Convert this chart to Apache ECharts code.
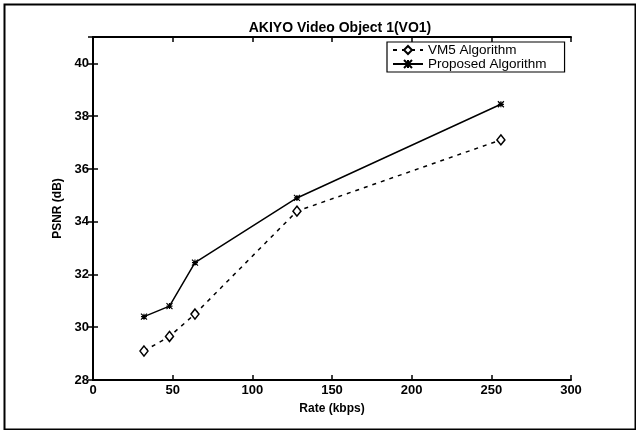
<!DOCTYPE html>
<html>
<head>
<meta charset="utf-8">
<script src="https://cdn.jsdelivr.net/npm/echarts@6/dist/echarts.min.js"></script>
<style>
html,body{margin:0;padding:0;background:#fff;}
#c{width:636px;height:430px;}
</style>
</head>
<body>
<div id="c"></div>
<script>
var rates = [32, 48, 64, 128, 256];
var vm5 = [29.1, 29.65, 30.5, 34.4, 37.1];
var proposed = [30.4, 30.8, 32.45, 34.9, 38.45];
var xTicks = [0, 50, 100, 150, 200, 250, 300];
var yTicks = [28, 30, 32, 34, 36, 38, 40];

var FONT = '"Liberation Sans", Arial, sans-serif';
var chart = echarts.init(document.getElementById('c'), null, {renderer: 'canvas'});

function pairs(xs, ys) { return xs.map(function (x, i) { return [x, ys[i]]; }); }

var tickStyle = {show: true, inside: true, length: 5, lineStyle: {color: '#000', width: 1.5}};
var lineAx = {show: true, lineStyle: {color: '#000', width: 2}};
var plusPath = 'path://M0,5L10,5M5,0L5,10M0,0L10,10M0,10L10,0';

chart.setOption({
  backgroundColor: '#fff',
  animation: false,
  title: {
    text: 'AKIYO Video Object 1(VO1)',
    left: 335, top: 16, textAlign: 'center',
    textStyle: {fontFamily: FONT, fontSize: 14, fontWeight: 'bold', color: '#000'}
  },
  legend: {
    left: 387, top: 42, orient: 'vertical',
    itemGap: 0, itemWidth: 30, itemHeight: 10,
    padding: [1, 18, 1, 5],
    borderColor: '#000', borderWidth: 1.2, backgroundColor: '#fff',
    textStyle: {fontFamily: FONT, fontSize: 13.5, color: '#000', lineHeight: 14},
    data: ['VM5 Algorithm', 'Proposed Algorithm']
  },
  grid: {left: 93, right: 65, top: 37, bottom: 50},
  xAxis: [{
    type: 'value', min: 0, max: 300, interval: 50,
    name: 'Rate (kbps)', nameLocation: 'middle', nameGap: 23,
    nameTextStyle: {fontFamily: FONT, fontSize: 12, fontWeight: 'bold', color: '#000'},
    axisLine: lineAx, axisTick: tickStyle, splitLine: {show: false},
    axisLabel: {fontFamily: FONT, fontSize: 13, fontWeight: 'bold', color: '#000', margin: 4,
      formatter: function (v) { return xTicks.indexOf(v) >= 0 ? String(v) : ''; }}
  }, {
    type: 'value', min: 0, max: 300, interval: 50, position: 'top',
    axisLine: lineAx, axisTick: tickStyle, axisLabel: {show: false}, splitLine: {show: false}
  }],
  yAxis: [{
    type: 'value', min: 28, max: 41, interval: 2,
    name: 'PSNR (dB)', nameLocation: 'middle', nameGap: 27, nameRotate: 90,
    nameTextStyle: {fontFamily: FONT, fontSize: 12, fontWeight: 'bold', color: '#000'},
    axisLine: lineAx, axisTick: tickStyle, splitLine: {show: false},
    axisLabel: {fontFamily: FONT, fontSize: 13, fontWeight: 'bold', color: '#000', margin: 4,
      formatter: function (v) { return yTicks.indexOf(v) >= 0 ? String(v) : ''; }}
  }, {
    type: 'value', min: 28, max: 41, interval: 2, position: 'right',
    axisLine: lineAx, axisTick: tickStyle, axisLabel: {show: false}, splitLine: {show: false}
  }],
  graphic: [{
    type: 'rect', left: 2, top: 2, silent: true,
    shape: {width: 631, height: 425},
    style: {fill: 'none', stroke: '#000', lineWidth: 2}
  }],
  series: [{
    name: 'VM5 Algorithm', type: 'line',
    data: pairs(rates, vm5),
    symbol: 'diamond', symbolSize: [8, 10], showAllSymbol: true,
    lineStyle: {color: '#000', width: 1.5, type: [4, 5]},
    itemStyle: {color: '#fff', borderColor: '#000', borderWidth: 1.5}
  }, {
    name: 'Proposed Algorithm', type: 'line',
    data: pairs(rates, proposed),
    symbol: plusPath, symbolSize: 6, showAllSymbol: true,
    lineStyle: {color: '#000', width: 1.5},
    itemStyle: {color: 'none', borderColor: '#000', borderWidth: 1.2}
  }]
});
</script>
</body>
</html>
